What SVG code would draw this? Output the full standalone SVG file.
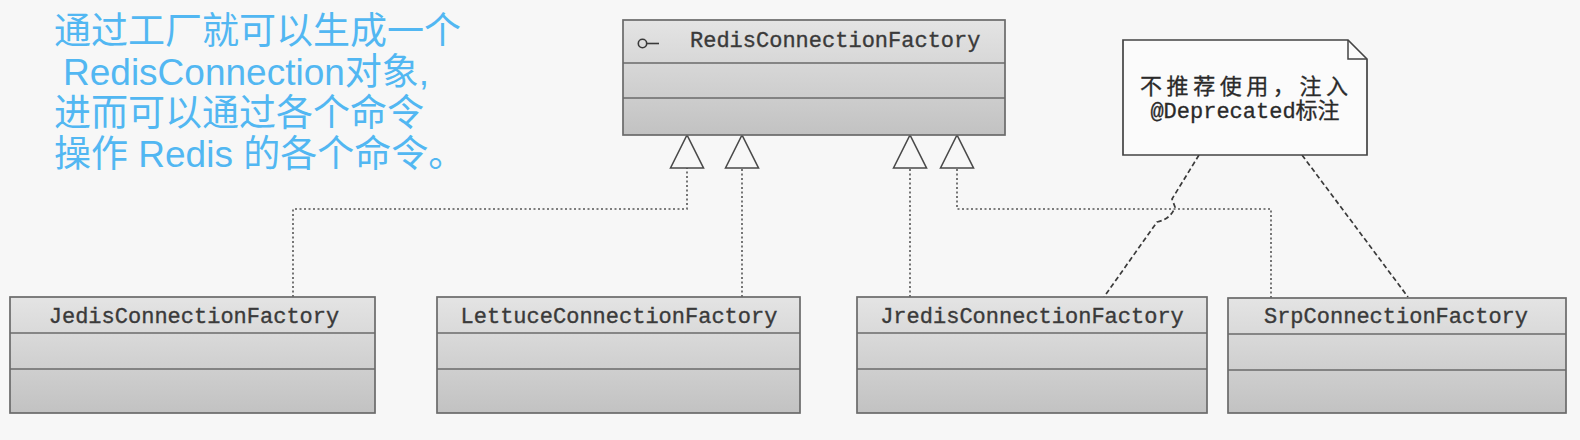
<svg xmlns="http://www.w3.org/2000/svg" width="1580" height="440" viewBox="0 0 1580 440">
<style>
.bg{fill:#f7f7f7}
.cls{fill:url(#g);stroke:#6a6a6a;stroke-width:1.7}
.div{stroke:#6a6a6a;stroke-width:1.7}
.name{font-family:"Liberation Mono","DejaVu Sans Mono",monospace;font-size:22px;fill:#3a3a3a;stroke:#3a3a3a;stroke-width:0.35}
.dot{fill:none;stroke:#555;stroke-width:1.6;stroke-dasharray:2 2.5}
.dash{fill:none;stroke:#3a3a3a;stroke-width:1.7;stroke-dasharray:5 3}
.note{fill:#fbfbfb;stroke:#444;stroke-width:1.7}
.ntext{font-family:"Liberation Mono","Noto Sans CJK SC",monospace;font-size:22px;fill:#2a2a2a;stroke:#2a2a2a;stroke-width:0.3}
.blue{font-family:"Liberation Sans","Noto Sans CJK SC",sans-serif;font-size:37px;fill:#52b7f2}
</style>
<defs>
<linearGradient id="g" x1="0" y1="0" x2="0" y2="1">
<stop offset="0" stop-color="#e4e4e4"/>
<stop offset="1" stop-color="#c2c2c2"/>
</linearGradient>
<marker id="tri" markerUnits="userSpaceOnUse" viewBox="0 0 36 36" markerWidth="36" markerHeight="36" refX="34" refY="18" orient="auto">
<polygon points="1,1.5 34,18 1,34.5" fill="#f7f7f7" stroke="#4a4a4a" stroke-width="1.6"/>
</marker>
</defs>
<rect class="bg" x="0" y="0" width="1580" height="440"/>

<g id="caption">
<text class="blue" x="54" y="44">通过工厂就可以生成一个</text>
<text class="blue" x="63" y="85">RedisConnection对象,</text>
<text class="blue" x="54" y="126">进而可以通过各个命令</text>
<text class="blue" x="54" y="167">操作 Redis 的各个命令。</text>
</g>

<g id="connectors">
<path class="dot" d="M293,297 V209 H687 V135" marker-end="url(#tri)"/>
<path class="dot" d="M742,297 V135" marker-end="url(#tri)"/>
<path class="dot" d="M910,297 V135" marker-end="url(#tri)"/>
<path class="dot" d="M1271,298 V209 H957 V135" marker-end="url(#tri)"/>
<path class="dash" d="M1199,155 L1172,199 L1175,207 Q1171,219 1157,222 L1104,297"/>
<path class="dash" d="M1302,155 L1408,297"/>
</g>

<g id="RedisConnectionFactory">
<rect class="cls" x="623" y="20" width="382" height="115"/>
<line class="div" x1="623" y1="63" x2="1005" y2="63"/>
<line class="div" x1="623" y1="98" x2="1005" y2="98"/>
<circle cx="642.5" cy="43.5" r="4.2" fill="none" stroke="#3a3a3a" stroke-width="1.6"/>
<line x1="647" y1="43.5" x2="659" y2="43.5" stroke="#3a3a3a" stroke-width="1.6"/>
<text class="name" x="690" y="47">RedisConnectionFactory</text>
</g>

<g id="note">
<path class="note" d="M1123,40 H1348 L1367,59 V155 H1123 Z"/>
<path d="M1348,40 V59 H1367" fill="none" stroke="#444" stroke-width="1.5"/>
<text class="ntext" x="1140" y="94" textLength="208" lengthAdjust="spacing">不推荐使用，注入</text>
<text class="ntext" x="1245" y="118" text-anchor="middle">@Deprecated标注</text>
</g>

<g id="JedisConnectionFactory">
<rect class="cls" x="10" y="297" width="365" height="116"/>
<line class="div" x1="10" y1="333" x2="375" y2="333"/>
<line class="div" x1="10" y1="369" x2="375" y2="369"/>
<text class="name" x="194" y="323" text-anchor="middle">JedisConnectionFactory</text>
</g>

<g id="LettuceConnectionFactory">
<rect class="cls" x="437" y="297" width="363" height="116"/>
<line class="div" x1="437" y1="333" x2="800" y2="333"/>
<line class="div" x1="437" y1="369" x2="800" y2="369"/>
<text class="name" x="619" y="323" text-anchor="middle">LettuceConnectionFactory</text>
</g>

<g id="JredisConnectionFactory">
<rect class="cls" x="857" y="297" width="350" height="116"/>
<line class="div" x1="857" y1="333" x2="1207" y2="333"/>
<line class="div" x1="857" y1="369" x2="1207" y2="369"/>
<text class="name" x="1032" y="323" text-anchor="middle">JredisConnectionFactory</text>
</g>

<g id="SrpConnectionFactory">
<rect class="cls" x="1228" y="298" width="338" height="115"/>
<line class="div" x1="1228" y1="334" x2="1566" y2="334"/>
<line class="div" x1="1228" y1="370" x2="1566" y2="370"/>
<text class="name" x="1396" y="323" text-anchor="middle">SrpConnectionFactory</text>
</g>
</svg>
